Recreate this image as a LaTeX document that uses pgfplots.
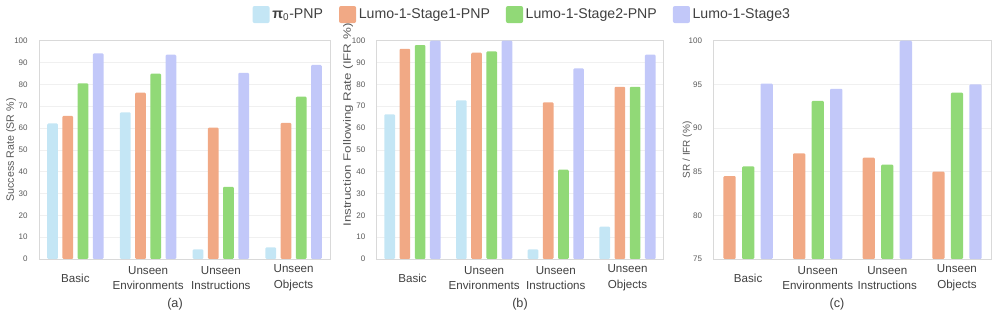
\documentclass[border=0pt]{standalone}
\usepackage{fontspec}
\setmainfont{Liberation Sans}
\usepackage{graphicx}
\usepackage{pgfplots}
\pgfplotsset{compat=1.18}

\definecolor{cpi}{HTML}{C4E6F5}
\definecolor{cone}{HTML}{F1A985}
\definecolor{ctwo}{HTML}{91D977}
\definecolor{cthree}{HTML}{C2C8F9}
\definecolor{frame}{HTML}{D9D9D9}
\definecolor{gridc}{HTML}{F0F0F0}
\definecolor{tick}{HTML}{595959}
\definecolor{txt}{HTML}{404040}

% success rate, instruction following rate, and the zoomed view
\pgfplotstableread{
x pi s1 s2 s3
0 62.1 65.6 80.5 94.2
1 67.2 76.2 84.9 93.6
2 4.4 60.2 33.1 85.3
3 5.3 62.4 74.4 88.9
}\sr
\pgfplotstableread{
x pi s1 s2 s3
0 66.3 96.3 98.0 100
1 72.7 94.5 95.1 100
2 4.4 71.8 40.9 87.3
3 14.8 78.9 78.9 93.6
}\ifr
\pgfplotstableread{
x s1 s2 s3
0 84.5 85.6 95.1
1 87.1 93.1 94.5
2 86.6 85.8 100
3 85.0 94.05 95.0
}\both

\pgfplotsset{
  lumo/.style={
    scale only axis,
    anchor=south west,
    height=163.7pt,
    xmin=-0.5, xmax=3.5,
    xtick={0,1,2,3},
    xticklabels={Basic, Unseen\\Environments, Unseen\\Instructions, Unseen\\Objects},
    xticklabel style={align=center, anchor=center, yshift=-14.25pt,
      font=\fontsize{8.7}{11.7}\selectfont, text=txt},
    yticklabel style={font=\fontsize{6}{7}\selectfont, text=tick, xshift=-5pt},
    /pgf/number format/assume math mode=true,
    major tick length=0pt,
    axis line style={draw=frame, line width=0.6pt},
    ymajorgrids,
    grid style={draw=gridc, line width=0.5pt},
    ylabel style={text=tick, anchor=center},
  },
  sq/.style={fill=#1, draw=none, rounded corners=0.8pt},
}

\begin{document}
\begin{tikzpicture}
\path[use as bounding box] (0,0) rectangle (747.75pt,240.75pt);

% (a)
\begin{axis}[lumo, at={(29.25pt,46.5pt)}, width=218.25pt,
  ymin=0, ymax=100, ytick distance=10,
  ybar=3.4pt, bar width=8pt,
  every axis plot post/.append style={
    legend image code/.code={\fill[##1, rounded corners=1.5pt] (0pt,-6.4pt) rectangle (12.8pt,6.4pt);}},
  ylabel={\fontsize{8}{9}\selectfont Success Rate (SR \%)},
  ylabel style={at={(axis description cs:-0.096,0.5)}},
  legend columns=4,
  legend style={draw=none, fill=none, at={(axis description cs:1.662,1.12)}, anchor=center,
    font=\fontsize{10.6}{12}\selectfont, text=txt,
    /tikz/every even column/.append style={column sep=10pt}},
]
\addplot[sq=cpi] table[x=x, y=pi] {\sr};
\addplot[sq=cone] table[x=x, y=s1] {\sr};
\addplot[sq=ctwo] table[x=x, y=s2] {\sr};
\addplot[sq=cthree] table[x=x, y=s3] {\sr};
\legend{\textbf{π}\textsubscript{0}-PNP, Lumo-1-Stage1-PNP, Lumo-1-Stage2-PNP, Lumo-1-Stage3}
\end{axis}

% (b)
\begin{axis}[lumo, at={(282.5pt,46.5pt)}, width=215pt,
  ymin=0, ymax=100, ytick distance=10,
  ybar=3.4pt, bar width=8pt,
  ylabel={\fontsize{8}{9}\selectfont\scalebox{1.25}[1]{Instruction Following Rate (IFR \%)}},
  ylabel style={at={(axis description cs:-0.100,0.614)}},
]
\addplot[sq=cpi] table[x=x, y=pi] {\ifr};
\addplot[sq=cone] table[x=x, y=s1] {\ifr};
\addplot[sq=ctwo] table[x=x, y=s2] {\ifr};
\addplot[sq=cthree] table[x=x, y=s3] {\ifr};
\end{axis}

% (c)
\begin{axis}[lumo, at={(535pt,46.5pt)}, width=208.8pt,
  ymin=75, ymax=100, ytick distance=5,
  ybar=4.7pt, bar width=9.2pt,
  ylabel={\fontsize{7.5}{9}\selectfont SR / IFR (\%)},
  ylabel style={at={(axis description cs:-0.094,0.5)}},
]
\addplot[sq=cone] table[x=x, y=s1] {\both};
\addplot[sq=ctwo] table[x=x, y=s2] {\both};
\addplot[sq=cthree] table[x=x, y=s3] {\both};
\end{axis}

\node[font=\fontsize{9.5}{11}\selectfont, text=txt] at (131.25pt,12.75pt) {(a)};
\node[font=\fontsize{9.5}{11}\selectfont, text=txt] at (390pt,12.75pt) {(b)};
\node[font=\fontsize{9.5}{11}\selectfont, text=txt] at (627.75pt,12.75pt) {(c)};
\end{tikzpicture}
\end{document}
